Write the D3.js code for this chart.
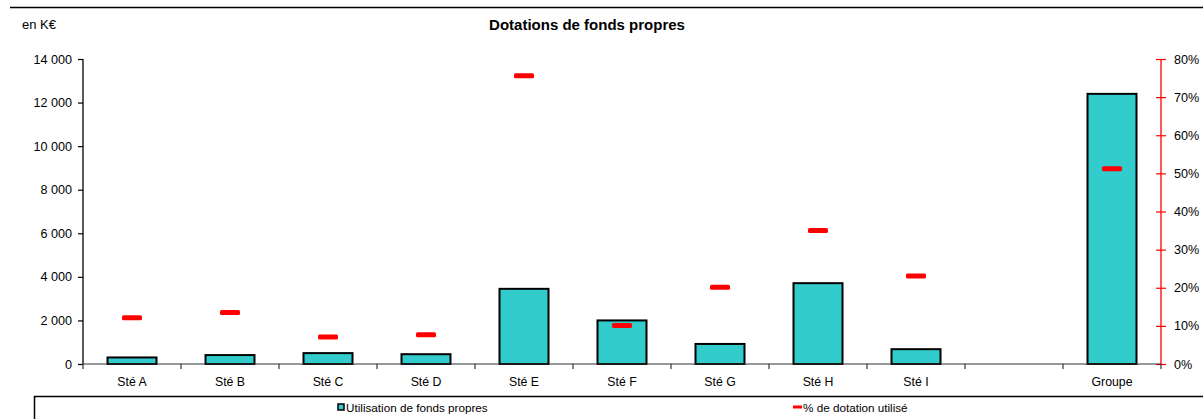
<!DOCTYPE html>
<html><head><meta charset="utf-8">
<script src="https://cdn.jsdelivr.net/npm/d3@7"></script>
<style>
body{margin:0;background:#fff;}
svg{display:block;font-family:"Liberation Sans",Arial,sans-serif;}
</style></head>
<body><svg id="c" width="1203" height="419"></svg>
<script>
const categories = ["Sté A","Sté B","Sté C","Sté D","Sté E","Sté F","Sté G","Sté H","Sté I","","Groupe"];
const utilisation = [300,410,500,450,3450,2000,920,3710,680,null,12400];
const pctUtilise = [0.121,0.135,0.071,0.077,0.756,0.101,0.201,0.35,0.231,null,0.512];
const leftTicks = [0,2000,4000,6000,8000,10000,12000,14000];
const rightTicks = [0,0.1,0.2,0.3,0.4,0.5,0.6,0.7,0.8];

const svg = d3.select("#c");
const x0 = 83, x1 = 1161, yTop = 59, yBot = 364;

const x = d3.scaleBand().domain(categories.map((d,i)=>i)).range([x0,x1]).paddingInner(0).paddingOuter(0);
const yL = d3.scaleLinear().domain([0,14000]).range([yBot,yTop]);
const yR = d3.scaleLinear().domain([0,0.8]).range([yBot,yTop]);

// top rule
svg.append("line").attr("x1",10).attr("x2",1203).attr("y1",7.5).attr("y2",7.5).attr("stroke","#000").attr("stroke-width",1.3);
svg.append("text").attr("x",22).attr("y",29).attr("font-size",13).attr("fill","#000").text("en K€");
svg.append("text").attr("x",587).attr("y",30).attr("text-anchor","middle").attr("font-size",15).attr("font-weight","bold").attr("fill","#000").text("Dotations de fonds propres");

const fmt = v => d3.format(",")(v).replace(/,/g," ");

// left axis
const gl = svg.append("g").attr("transform",`translate(${x0},0)`)
  .call(d3.axisLeft(yL).tickValues(leftTicks).tickFormat(fmt).tickSize(5).tickPadding(6));
gl.select(".domain").attr("stroke","#000").attr("stroke-width",1.3).attr("d",`M0,${yTop}V${yBot}`);
gl.selectAll(".tick line").attr("stroke","#000").attr("stroke-width",1.2);
gl.selectAll("text").attr("font-size",12.6).attr("fill","#000").attr("font-family","Liberation Sans, Arial, sans-serif");

// right axis
const gr = svg.append("g").attr("transform",`translate(${x1},0)`)
  .call(d3.axisRight(yR).tickValues(rightTicks).tickFormat(d3.format(".0%")).tickSize(5).tickPadding(8));
gr.select(".domain").attr("stroke","#f00").attr("stroke-width",1.3).attr("d",`M0,${yTop}V${yBot}`);
gr.selectAll(".tick line").attr("stroke","#f00").attr("stroke-width",1.2).attr("x1",-5).attr("x2",5);
gr.selectAll("text").attr("font-size",12.6).attr("fill","#000").attr("font-family","Liberation Sans, Arial, sans-serif");

// bars
const bw = x.bandwidth()*0.5;
svg.append("g").selectAll("rect").data(utilisation.map((v,i)=>({v,i})).filter(d=>d.v!=null)).join("rect")
  .attr("x",d=>x(d.i)+x.bandwidth()/2-bw/2).attr("width",bw)
  .attr("y",d=>yL(d.v)).attr("height",d=>yL(0)-yL(d.v))
  .attr("fill","#33CCCC").attr("stroke","#000").attr("stroke-width",2);

// bottom axis
const gb = svg.append("g").attr("transform",`translate(0,${yBot})`)
  .call(d3.axisBottom(x).tickFormat(i=>categories[i]).tickSize(0).tickPadding(13));
gb.select(".domain").attr("stroke","#333").attr("stroke-width",1.2).attr("d",`M${x0},0H${x1}`);
gb.selectAll(".tick line").remove();
gb.selectAll("text").attr("font-size",12.3).attr("fill","#000").attr("font-family","Liberation Sans, Arial, sans-serif");
// category boundary ticks
svg.append("g").selectAll("line").data(d3.range(categories.length+1)).join("line")
  .attr("x1",i=>x0+i*x.step()).attr("x2",i=>x0+i*x.step())
  .attr("y1",yBot).attr("y2",yBot+5).attr("stroke","#333").attr("stroke-width",1.2);

// percentage markers
svg.append("g").selectAll("rect").data(pctUtilise.map((v,i)=>({v,i})).filter(d=>d.v!=null)).join("rect")
  .attr("x",d=>x(d.i)+x.bandwidth()/2-10).attr("width",20)
  .attr("y",d=>yR(d.v)-2.5).attr("height",5).attr("rx",1.5)
  .attr("fill","#f00");

// legend box
svg.append("path").attr("d","M34.5,419V396.5H1203").attr("fill","none").attr("stroke","#000").attr("stroke-width",1.5);
const lg = svg.append("g");
lg.append("rect").attr("x",338).attr("y",404).attr("width",6).attr("height",6).attr("fill","#33CCCC").attr("stroke","#000").attr("stroke-width",1.5);
lg.append("text").attr("x",346).attr("y",411.5).attr("font-size",11.7).attr("fill","#000").text("Utilisation de fonds propres");
lg.append("rect").attr("x",793).attr("y",405.5).attr("width",9).attr("height",3).attr("fill","#f00");
lg.append("text").attr("x",803).attr("y",411.5).attr("font-size",11.7).attr("fill","#000").text("% de dotation utilisé");
</script></body></html>
